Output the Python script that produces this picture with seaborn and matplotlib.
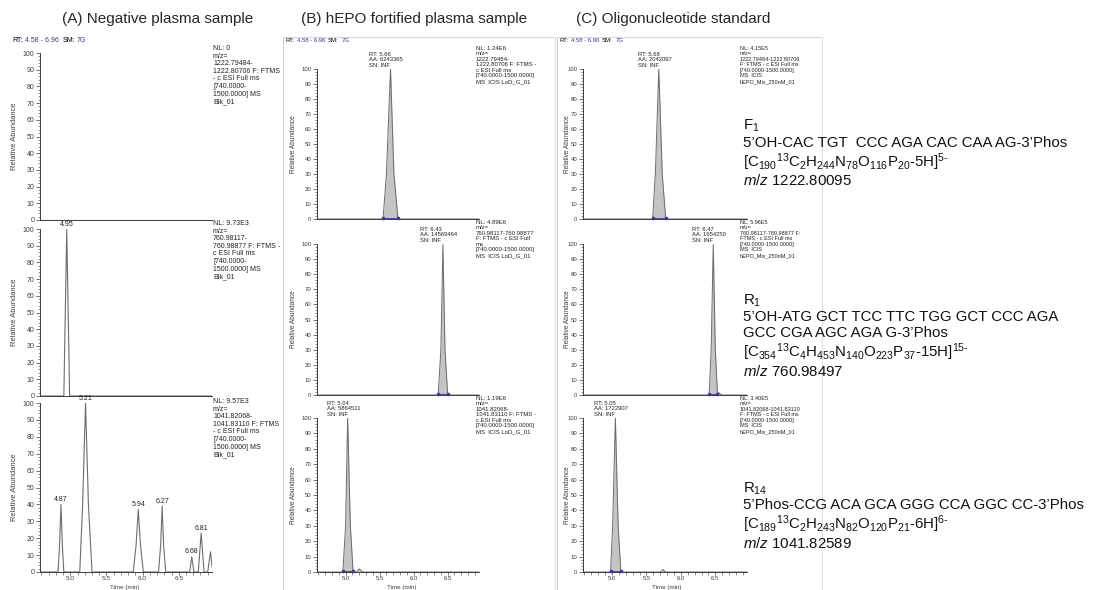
import matplotlib
matplotlib.use("Agg")
import matplotlib.pyplot as plt
from matplotlib.ticker import MultipleLocator
from matplotlib.lines import Line2D
import seaborn as sns

# ----------------------------
# Data
# ----------------------------

x_range = [4.58, 6.96]

# (A) negative plasma sample
neg_f1_time = [4.58, 6.96]
neg_f1_int = [0, 0]
neg_r1_time = [4.58, 4.91, 4.95, 4.99, 6.96]
neg_r1_int = [0, 0, 100, 0, 0]
neg_r14_time = [4.58, 4.83, 4.85, 4.87, 4.89, 4.91, 5.13, 5.17, 5.21, 5.25, 5.30,
                5.87, 5.91, 5.94, 5.97, 6.01, 6.22, 6.25, 6.27, 6.29, 6.32,
                6.65, 6.68, 6.71, 6.77, 6.81, 6.85, 6.90, 6.94, 6.96]
neg_r14_int = [0, 0, 15, 40, 15, 0, 0, 40, 100, 40, 0,
               0, 16, 37, 16, 0, 0, 16, 39, 16, 0,
               0, 9, 0, 0, 23, 0, 0, 12, 3]
neg_r1_peak_t = [4.95]
neg_r1_peak_h = [100]
neg_r14_peak_t = [4.87, 5.21, 5.94, 6.27, 6.68, 6.81]
neg_r14_peak_h = [40, 100, 37, 39, 9, 23]

# (B) hEPO fortified plasma sample
fort_f1_time = [4.58, 5.55, 5.60, 5.66, 5.71, 5.77, 6.96]
fort_f1_int = [0, 0, 30, 100, 30, 0, 0]
fort_r1_time = [4.58, 6.36, 6.40, 6.43, 6.46, 6.50, 6.96]
fort_r1_int = [0, 0, 30, 100, 30, 0, 0]
fort_r14_time = [4.58, 4.96, 5.00, 5.03, 5.07, 5.11, 5.16, 5.20, 5.25, 6.96]
fort_r14_int = [0, 0, 30, 100, 30, 0, 0, 2, 0, 0]
fort_rt = ["5.66", "6.43", "5.04"]
fort_aa = ["6243365", "14569464", "5864511"]
fort_bounds = [(5.55, 5.77), (6.36, 6.50), (4.96, 5.11)]

# (C) oligonucleotide standard
std_f1_time = [4.58, 5.59, 5.63, 5.68, 5.73, 5.78, 6.96]
std_f1_int = [0, 0, 30, 100, 30, 0, 0]
std_r1_time = [4.58, 6.41, 6.44, 6.47, 6.50, 6.53, 6.60, 6.96]
std_r1_int = [0, 0, 30, 100, 30, 2, 0, 0]
std_r14_time = [4.58, 4.98, 5.01, 5.05, 5.09, 5.13, 5.70, 5.74, 5.78, 6.96]
std_r14_int = [0, 0, 30, 100, 30, 0, 0, 1.5, 0, 0]
std_rt = ["5.68", "6.47", "5.05"]
std_aa = ["2042097", "1654250", "1722907"]
std_bounds = [(5.59, 5.78), (6.41, 6.53), (4.98, 5.13)]

nl_neg = [
    "NL: 0\nm/z=\n1222.79484-\n1222.80706 F: FTMS\n- c ESI Full ms\n[740.0000-\n1500.0000] MS\nBlk_01",
    "NL: 9.73E3\nm/z=\n760.98117-\n760.98877 F: FTMS -\nc ESI Full ms\n[740.0000-\n1500.0000] MS\nBlk_01",
    "NL: 9.57E3\nm/z=\n1041.82068-\n1041.83110 F: FTMS\n- c ESI Full ms\n[740.0000-\n1500.0000] MS\nBlk_01",
]
nl_fort = [
    "NL: 1.24E6\nm/z=\n1222.79484-\n1222.80706 F: FTMS -\nc ESI Full ms\n[740.0000-1500.0000]\nMS  ICIS LoD_G_01",
    "NL: 4.89E6\nm/z=\n760.98117-760.98877\nF: FTMS - c ESI Full\nms\n[740.0000-1500.0000]\nMS  ICIS LoD_G_01",
    "NL: 1.19E6\nm/z=\n1041.82068-\n1041.83110 F: FTMS -\nc ESI Full ms\n[740.0000-1500.0000]\nMS  ICIS LoD_G_01",
]
nl_std = [
    "NL: 4.15E5\nm/z=\n1222.79484-1222.80706\nF: FTMS - c ESI Full ms\n[740.0000-1500.0000]\nMS  ICIS\nhEPO_Mix_250nM_01",
    "NL: 5.96E5\nm/z=\n760.98117-760.98877 F:\nFTMS - c ESI Full ms\n[740.0000-1500.0000]\nMS  ICIS\nhEPO_Mix_250nM_01",
    "NL: 3.40E5\nm/z=\n1041.82068-1041.83110\nF: FTMS - c ESI Full ms\n[740.0000-1500.0000]\nMS  ICIS\nhEPO_Mix_250nM_01",
]

panel_titles = ["(A) Negative plasma sample", "(B) hEPO fortified plasma sample",
                "(C) Oligonucleotide standard"]

oligo_lines = [
    ("F$_{1}$", 126),
    ("5\u2019OH-CAC TGT  CCC AGA CAC CAA AG-3\u2019Phos", 143),
    (r"[C$_{190}$$^{13}$C$_{2}$H$_{244}$N$_{78}$O$_{116}$P$_{20}$-5H]$^{5\text{-}}$", 162),
    (r"$\mathit{m/z}$ 1222.80095", 181),
    ("R$_{1}$", 301),
    ("5\u2019OH-ATG GCT TCC TTC TGG GCT CCC AGA", 317),
    ("GCC CGA AGC AGA G-3\u2019Phos", 333),
    (r"[C$_{354}$$^{13}$C$_{4}$H$_{453}$N$_{140}$O$_{223}$P$_{37}$-15H]$^{15\text{-}}$", 352),
    (r"$\mathit{m/z}$ 760.98497", 371),
    ("R$_{14}$", 489),
    ("5\u2019Phos-CCG ACA GCA GGG CCA GGC CC-3\u2019Phos", 505),
    (r"[C$_{189}$$^{13}$C$_{2}$H$_{243}$N$_{82}$O$_{120}$P$_{21}$-6H]$^{6\text{-}}$", 524),
    (r"$\mathit{m/z}$ 1041.82589", 543),
]

# ----------------------------
# Figure setup
# ----------------------------

sns.set_style("ticks")
plt.rcParams["font.family"] = ["Liberation Sans", "DejaVu Sans"]
plt.rcParams["mathtext.fontset"] = "custom"
plt.rcParams["mathtext.rm"] = "Liberation Sans"
plt.rcParams["mathtext.it"] = "Liberation Sans:italic"
plt.rcParams["mathtext.bf"] = "Liberation Sans:bold"

W, H = 1099, 590
fig = plt.figure(figsize=(W / 100, H / 100), dpi=100)

BLUE = "#3535b0"
AXC = "#3c3c3c"


def add_ax(left, top, right, bottom):
    return fig.add_axes([left / W, 1 - bottom / H, (right - left) / W, (bottom - top) / H])


def ftext(x, y, s, **kw):
    return fig.text(x / W, 1 - y / H, s, **kw)


def style_axis(ax, fs, bottom_row, ylabel_x, xfs):
    ax.set_xlim(x_range)
    ax.set_ylim(0, 100)
    ax.patch.set_alpha(0)
    sns.despine(ax=ax)
    for sp in ["left", "bottom"]:
        ax.spines[sp].set_color(AXC)
        ax.spines[sp].set_linewidth(0.7)
    ax.yaxis.set_major_locator(MultipleLocator(10))
    ax.yaxis.set_minor_locator(MultipleLocator(2))
    ax.tick_params(axis="y", which="major", labelsize=fs, length=3, width=0.5,
                   pad=1, colors=AXC)
    ax.tick_params(axis="y", which="minor", length=1.5, width=0.4, colors=AXC)
    if bottom_row:
        ax.xaxis.set_major_locator(MultipleLocator(0.5))
        ax.xaxis.set_minor_locator(MultipleLocator(0.1))
        ax.tick_params(axis="x", which="major", labelsize=xfs, length=2.5, width=0.5,
                       pad=0.6, colors=AXC)
        ax.tick_params(axis="x", which="minor", length=2, width=0.4, colors=AXC)
    else:
        ax.set_xticks([])
    ax.set_xlabel("")
    ax.set_ylabel("Relative Abundance", fontsize=fs + 0.4, color=AXC)
    ax.yaxis.set_label_coords(ylabel_x, 0.5)


def draw_header(x0, y, fs, offsets):
    parts = [("RT:", "black"), ("4.58 - 6.96", BLUE), ("SM:", "black"), ("7G", BLUE)]
    for (s, c), off in zip(parts, offsets):
        ftext(x0 + off, y, s, fontsize=fs, color=c, va="center", ha="left")


# ----------------------------
# Panel frames, titles and headers
# ----------------------------

for x0, x1 in [(283, 555), (557, 822)]:
    fig.add_artist(Line2D([x0 / W, x0 / W], [0, 1 - 37 / H], transform=fig.transFigure,
                          color="#cfcfcf", lw=0.8))
    fig.add_artist(Line2D([x0 / W, x1 / W], [1 - 37 / H, 1 - 37 / H],
                          transform=fig.transFigure, color="#d8d8d8", lw=0.8))
    fig.add_artist(Line2D([x1 / W, x1 / W], [0, 1 - 37 / H], transform=fig.transFigure,
                          color="#e0e0e0", lw=0.8))

for title, cx in zip(panel_titles, [158, 414, 673]):
    ftext(cx, 19, title, fontsize=11, ha="center", va="center")

draw_header(12, 41, 5, [0, 13, 51, 65])
draw_header(285, 40, 4.3, [0, 12, 43, 57])
draw_header(559, 40, 4.3, [0, 12, 43, 57])

# ----------------------------
# (A) Negative plasma sample
# ----------------------------

a_left, a_right = 40, 212
a_rows = [(53, 220), (229, 396), (403, 572)]
neg_traces = [(neg_f1_time, neg_f1_int), (neg_r1_time, neg_r1_int),
              (neg_r14_time, neg_r14_int)]
neg_peaks = [([], []), (neg_r1_peak_t, neg_r1_peak_h), (neg_r14_peak_t, neg_r14_peak_h)]
nl_tops = [45, 220, 398]

for i, ((top, bot), (t, y), (pt, ph)) in enumerate(zip(a_rows, neg_traces, neg_peaks)):
    ax = add_ax(a_left, top, a_right, bot)
    sns.lineplot(x=t, y=y, ax=ax, color="#6e6e6e", linewidth=0.8,
                 estimator=None, sort=False)
    for tt, hh in zip(pt, ph):
        ax.annotate(f"{tt:.2f}", (tt, hh), xytext=(0, 1), textcoords="offset points",
                    ha="center", va="bottom", fontsize=5, color="#222222",
                    annotation_clip=False)
    style_axis(ax, 5, i == 2, -22 / (a_right - a_left), 4.6)
    ftext(213, nl_tops[i], nl_neg[i], fontsize=5, va="top", ha="left",
          linespacing=1.12, color="#222222")

# ----------------------------
# (B) and (C) integrated peaks
# ----------------------------

bc_rows = [(69, 219), (244, 395), (418, 572)]
nl_tops_bc = [46, 220, 396]

panels = [
    (317, 479, [(fort_f1_time, fort_f1_int), (fort_r1_time, fort_r1_int),
                (fort_r14_time, fort_r14_int)], fort_rt, fort_aa, fort_bounds,
     nl_fort, 476, 4.3, 297),
    (583, 747, [(std_f1_time, std_f1_int), (std_r1_time, std_r1_int),
                (std_r14_time, std_r14_int)], std_rt, std_aa, std_bounds,
     nl_std, 740, 4.0, 571),
]

for left, right, traces, rts, aas, bounds, nls, nl_x, nl_fs, ylab_px in panels:
    for i, ((top, bot), (t, y)) in enumerate(zip(bc_rows, traces)):
        ax = add_ax(left, top, right, bot)
        ax.fill_between(t, y, 0, color="#c4c4c4", linewidth=0)
        sns.lineplot(x=t, y=y, ax=ax, color="#6a6a6a", linewidth=0.7,
                     estimator=None, sort=False)
        s, e = bounds[i]
        ax.plot([s, e], [0.8, 0.8], color=BLUE, lw=0.6, marker="o", ms=1.6,
                clip_on=False, zorder=5)
        ax.annotate(f"RT: {rts[i]}\nAA: {aas[i]}\nSN: INF", (float(rts[i]), 100),
                    xytext=(-3, 1), textcoords="offset points", ha="center",
                    va="bottom", fontsize=4.2, linespacing=1.05,
                    multialignment="left", color="#222222", annotation_clip=False)
        style_axis(ax, 4.3, i == 2, (ylab_px - left) / (right - left), 4.3)
        ftext(nl_x, nl_tops_bc[i], nls[i], fontsize=nl_fs, va="top", ha="left",
              linespacing=1.12, color="#222222")

# Time axis labels at the bottom edge
for cx in [125, 402, 667]:
    ftext(cx, 589.5, "Time (min)", fontsize=4.5, ha="center", va="bottom", color=AXC)

# ----------------------------
# Oligonucleotide annotations
# ----------------------------

for s, y in oligo_lines:
    ftext(743, y, s, fontsize=10.8, ha="left", va="center", color="#111111")

fig.savefig("out.png", dpi=100)
plt.close(fig)
